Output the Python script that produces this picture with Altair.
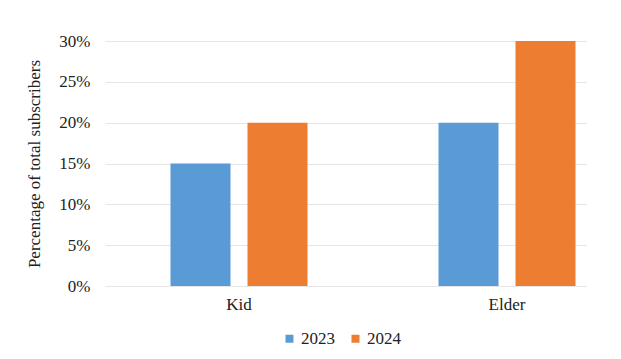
import altair as alt
import pandas as pd

categories = ["Kid", "Kid", "Elder", "Elder"]
years = ["2023", "2024", "2023", "2024"]
values = [0.15, 0.20, 0.20, 0.30]

df = pd.DataFrame({"group": categories, "year": years, "value": values})

font = "Liberation Serif"

chart = alt.Chart(df).mark_bar().encode(
    x=alt.X("group:N", sort=["Kid", "Elder"],
            scale=alt.Scale(range=[0, 536], paddingInner=0, paddingOuter=0),
            axis=alt.Axis(title=None, labelAngle=0, domain=False, ticks=False,
                          labelPadding=10, labelFontSize=17, labelFont=font,
                          labelColor="#222222")),
    xOffset=alt.XOffset("year:N", scale=alt.Scale(paddingInner=0.2208, paddingOuter=0.8506)),
    y=alt.Y("value:Q", scale=alt.Scale(domain=[0, 0.3], nice=False),
            axis=alt.Axis(format=".0%", values=[0, 0.05, 0.1, 0.15, 0.2, 0.25, 0.3],
                          title="Percentage of total subscribers",
                          titleFont=font, titleFontSize=17, titleFontWeight="normal",
                          titleColor="#222222", titlePadding=15,
                          labelFont=font, labelFontSize=17, labelColor="#222222",
                          labelPadding=15, ticks=False, domain=False,
                          gridColor="#e6e6e6", gridWidth=1)),
    color=alt.Color("year:N", scale=alt.Scale(domain=["2023", "2024"], range=["#5B9BD5", "#ED7D31"]),
                    legend=alt.Legend(title=None, orient="none", direction="horizontal",
                                      legendX=176, legendY=289, symbolType="square",
                                      symbolSize=64, symbolStrokeWidth=0,
                                      labelFont=font, labelFontSize=17, labelColor="#222222",
                                      columnPadding=12, labelOffset=3)),
).properties(
    width=462, height=245,
    autosize=alt.AutoSizeParams(type="none"),
    padding={"left": 97, "top": 33, "right": 20, "bottom": 70},
).configure(font=font).configure_view(stroke=None)

chart.save("out.html", embed_options={"renderer": "svg", "actions": False})
